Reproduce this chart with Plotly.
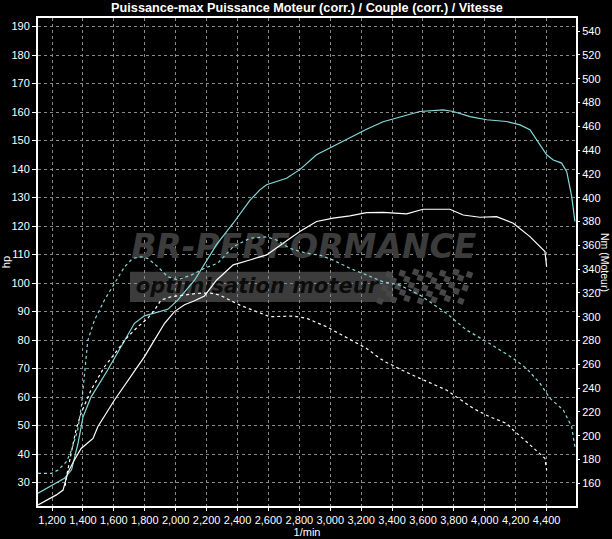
import plotly.graph_objects as go

# ---------------- data ----------------
rpm_pw_tuned = [1109, 1200, 1280, 1326, 1345, 1369, 1400, 1452, 1560, 1647, 1733, 1798, 1905, 1949, 2013,
                2122, 2264, 2372, 2480, 2544, 2588, 2717, 2803, 2911, 3019, 3127, 3235, 3342, 3450,
                3580, 3731, 3796, 3904, 4012, 4141, 4228, 4292, 4357, 4400, 4443, 4497, 4530, 4562, 4583]
hp_tuned = [26.3, 29.2, 31.5, 34.5, 39.0, 44.0, 53.0, 60.0, 69.5, 77.7, 85.9, 88.5, 90.0, 90.8, 94.0,
            101.0, 113.5, 121.0, 129.0, 132.7, 134.5, 136.8, 139.8, 145.0, 148.0, 151.0, 154.0, 156.6, 158.3,
            160.2, 160.8, 160.2, 158.4, 157.3, 156.7, 155.5, 153.8, 148.5, 145.0, 143.2, 142.1, 139.1, 130.4, 121.6]

rpm_pw_stock = [1109, 1228, 1271, 1302, 1340, 1388, 1465, 1496, 1604, 1711, 1798, 1863, 1928, 1992, 2057,
                2122, 2186, 2264, 2372, 2480, 2588, 2695, 2803, 2911, 3019, 3127, 3235, 3342, 3494,
                3601, 3774, 3860, 3968, 4076, 4184, 4292, 4389, 4400]
hp_stock = [22.2, 25.7, 27.4, 33.5, 37.5, 42.0, 45.5, 49.6, 59.0, 67.2, 74.2, 80.1, 85.9, 90.0, 92.4,
            93.8, 95.5, 101.0, 106.4, 108.1, 109.9, 114.0, 118.1, 121.6, 122.8, 123.6, 124.7, 124.8, 124.3,
            125.9, 125.9, 123.9, 123.1, 123.3, 121.0, 116.3, 111.1, 105.8]

rpm_tq_tuned = [1109, 1196, 1239, 1293, 1326, 1347, 1366, 1390, 1410, 1431, 1474, 1539, 1604, 1669, 1722,
                1776, 1819, 1884, 1949, 2013, 2100, 2186, 2272, 2372, 2480, 2588, 2652, 2738, 2846, 2933,
                3019, 3127, 3235, 3342, 3450, 3580, 3752, 3882, 4031, 4184, 4270, 4357, 4422, 4508, 4562, 4583]
nm_tuned = [168.4, 168.4, 171.2, 178.2, 188.0, 197.0, 205.0, 225.0, 250.0, 280.0, 297.0, 314.0, 328.0, 342.0, 349.0,
            350.4, 349.0, 342.0, 333.6, 331.0, 335.0, 340.7, 345.0, 358.8, 365.9, 367.2, 364.5, 357.5, 353.3, 351.8,
            347.6, 340.7, 335.1, 329.4, 326.6, 318.2, 302.9, 288.8, 277.6, 265.0, 256.6, 244.0, 231.4, 221.6, 207.6, 190.8]

rpm_tq_stock = [1285, 1291, 1323, 1355, 1388, 1452, 1539, 1625, 1690, 1755, 1819, 1863, 1905, 1970, 2057,
                2143, 2220, 2285, 2415, 2544, 2609, 2760, 2847, 2976, 3105, 3235, 3321, 3364, 3407, 3450,
                3580, 3752, 3925, 4031, 4141, 4184, 4270, 4357, 4389, 4400]
nm_stock = [158.0, 164.0, 185.0, 205.0, 219.0, 238.4, 258.0, 272.0, 283.2, 291.6, 298.7, 305.6, 314.0, 316.8, 318.2,
            319.7, 320.0, 318.2, 309.8, 302.9, 300.0, 300.6, 298.7, 291.6, 282.7, 273.4, 265.0, 261.5, 259.0, 256.0,
            248.2, 238.4, 223.0, 216.0, 210.4, 204.8, 195.0, 185.2, 181.0, 171.2]

x_ticks = list(range(1200, 4401, 200))
hp_ticks = list(range(30, 191, 10))
nm_ticks = list(range(160, 541, 20))

X_RANGE = [1109, 4590]
HP_RANGE = [21.8, 193.0]
NM_RANGE = [141.0, 551.0]

CYAN = "#86dada"
WHITE = "#ffffff"
GRID = "#8a8a8a"
WM = "#3c3c3c"
FAM = "Liberation Sans, Arial, sans-serif"
TICKFONT = dict(family=FAM, size=11, color="white")

fig = go.Figure()

# ---- watermark decoration (drawn below the curves) ----
def fx(f):
    return X_RANGE[0] + f * (X_RANGE[1] - X_RANGE[0])

def fy(f):
    return HP_RANGE[0] + f * (HP_RANGE[1] - HP_RANGE[0])

# checkered flag
flag_x, flag_y = [], []
n_rows, n_cols = 5, 13
for r in range(n_rows):
    for c in range(n_cols):
        if (r + c) % 2 == 0:
            fxp = 0.652 + c * 0.0125 - r * 0.004
            fyp = 0.478 - r * 0.0135 + 0.004 * ((c % 6) - 3) / 3
            flag_x.append(fx(fxp))
            flag_y.append(fy(fyp))
fig.add_trace(go.Scatter(x=flag_x, y=flag_y, mode="markers",
                         marker=dict(symbol="square", size=6, color="#464646", angle=20, line=dict(width=0)),
                         hoverinfo="skip", showlegend=False))

fig.add_trace(go.Scatter(
    x=[fx(0.494), fx(0.407)], y=[fy(0.526), fy(0.448)],
    mode="text", text=["BR-PERFORMANCE", "optimisation moteur"],
    textfont=dict(family="DejaVu Sans", size=[33, 21], color=[WM, "#0c0c0c"], weight="bold", style="italic"),
    hoverinfo="skip", showlegend=False))

# ---- curves ----
fig.add_trace(go.Scatter(x=rpm_pw_tuned, y=hp_tuned, mode="lines",
                         line=dict(color=CYAN, width=1.2), name="Puissance (tuned)", showlegend=False))
fig.add_trace(go.Scatter(x=rpm_pw_stock, y=hp_stock, mode="lines",
                         line=dict(color=WHITE, width=1.2), name="Puissance (stock)", showlegend=False))
fig.add_trace(go.Scatter(x=rpm_tq_tuned, y=nm_tuned, mode="lines", yaxis="y2",
                         line=dict(color=CYAN, width=1.2, dash="3px,3px"), name="Couple (tuned)", showlegend=False))
fig.add_trace(go.Scatter(x=rpm_tq_stock, y=nm_stock, mode="lines", yaxis="y2",
                         line=dict(color=WHITE, width=1.2, dash="3px,3px"), name="Couple (stock)", showlegend=False))

# grey band of the watermark
fig.add_shape(type="rect", xref="paper", yref="paper", x0=0.171, x1=0.66, y0=0.418, y1=0.480,
              fillcolor=WM, line=dict(width=0), layer="below")

fig.update_layout(
    width=612, height=539,
    paper_bgcolor="black", plot_bgcolor="black",
    margin=dict(l=38, r=36, t=18, b=33, autoexpand=False),
    title=dict(text="<b>Puissance-max Puissance Moteur (corr.) / Couple (corr.) / Vitesse</b>",
               x=0.5, xref="paper", xanchor="center", y=1 - 8 / 539, yref="container", yanchor="middle",
               font=dict(family=FAM, size=12.7, color="white")),
    xaxis=dict(range=X_RANGE, tickvals=x_ticks, tickformat=",d", tickfont=TICKFONT, tickangle=0,
               automargin=False,
               showgrid=True, gridcolor=GRID, griddash="3px,3px", gridwidth=1,
               showline=True, linecolor="white", linewidth=2, mirror=True,
               ticks="outside", ticklen=3, tickcolor="white", zeroline=False,
               title=dict(text="1/min", font=TICKFONT, standoff=0)),
    yaxis=dict(range=HP_RANGE, tickvals=hp_ticks, tickfont=TICKFONT, automargin=False,
               showgrid=True, gridcolor=GRID, griddash="3px,3px", gridwidth=1,
               showline=True, linecolor="white", linewidth=2, mirror=True,
               ticks="outside", ticklen=4, tickcolor="white", zeroline=False,
               title=dict(text="hp", font=TICKFONT, standoff=2)),
    yaxis2=dict(range=NM_RANGE, tickvals=nm_ticks, tickfont=TICKFONT, overlaying="y", side="right",
                automargin=False,
                showgrid=False, showline=True, linecolor="white", linewidth=2,
                ticks="outside", ticklen=2, tickcolor="white", zeroline=False),
    annotations=[dict(text="Nm (Moteur)", xref="paper", yref="paper", x=1 + 29 / 538, y=0.5,
                      textangle=90, showarrow=False, font=dict(family=FAM, size=10.5, color="white"),
                      xanchor="center", yanchor="middle")],
    showlegend=False,
)

fig.write_html("out.html", config={"displayModeBar": False},
               post_script="document.body.style.margin='0';document.body.style.background='black';")
